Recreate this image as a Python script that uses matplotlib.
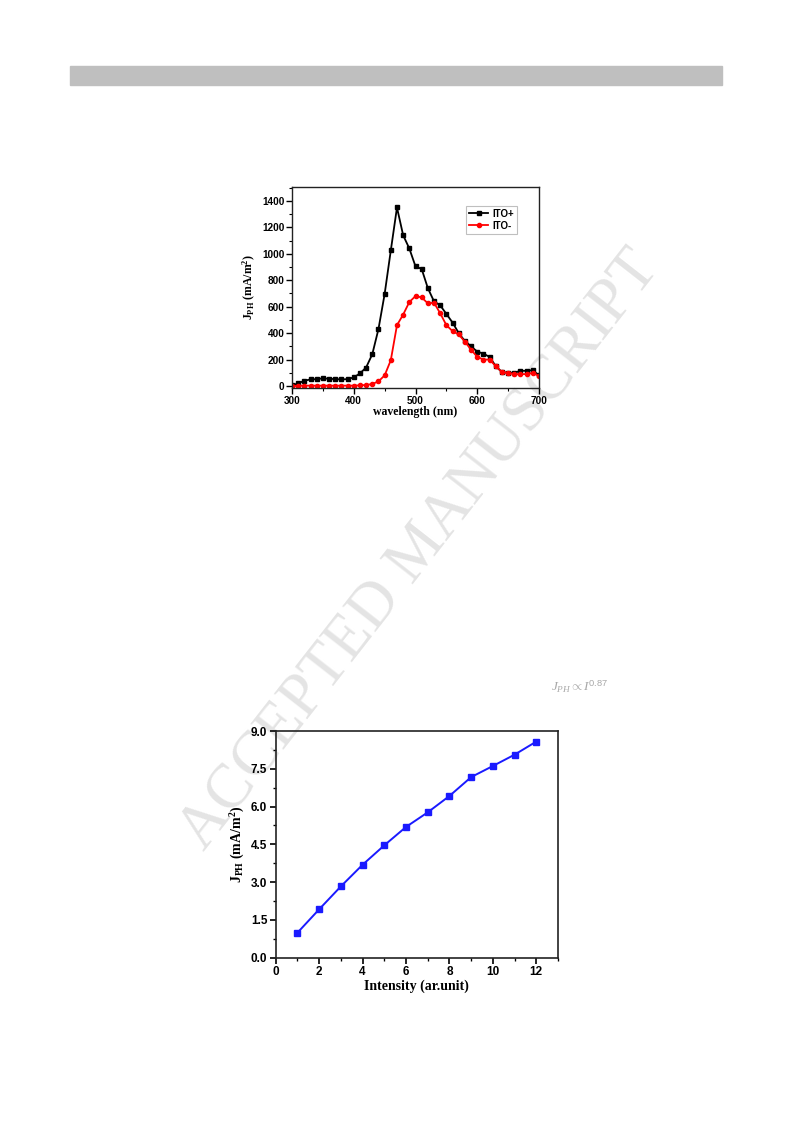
import numpy as np
import matplotlib
matplotlib.use("Agg")
import matplotlib.pyplot as plt
from matplotlib.ticker import MultipleLocator, AutoMinorLocator, FormatStrFormatter

plt.rcParams["mathtext.fontset"] = "custom"
plt.rcParams["mathtext.rm"] = "Liberation Serif"
plt.rcParams["mathtext.bf"] = "Liberation Serif:bold"
plt.rcParams["mathtext.it"] = "Liberation Serif:italic"
plt.rcParams["mathtext.sf"] = "Liberation Sans"

# --- spectral photocurrent (top chart) ---
wavelength = list(range(300, 701, 10))
ito_plus = [5, 20, 40, 50, 52, 58, 55, 52, 50, 52,
            65, 95, 140, 240, 430, 695, 1025, 1350, 1140, 1040,
            905, 885, 740, 640, 610, 545, 480, 400, 340, 300,
            260, 245, 220, 150, 105, 100, 100, 115, 115, 120, 80]
ito_minus = [0, 2, 3, 3, 3, 3, 3, 3, 3, 3,
             3, 5, 8, 15, 35, 80, 195, 460, 540, 635,
             680, 670, 625, 630, 550, 460, 415, 390, 335, 275,
             220, 200, 200, 150, 105, 100, 90, 90, 90, 100, 75]

# --- intensity dependence (bottom chart) ---
intensity = list(range(1, 13))
jph_int = [0.99, 1.92, 2.83, 3.69, 4.46, 5.19, 5.77, 6.42, 7.17, 7.61, 8.06, 8.58]

TICKFONT = "Liberation Sans"
LABELFONT = "Liberation Serif"
YLAB = r"J$_{\mathbf{PH}}$ (mA/m$^{\mathbf{2}}$)"

fig = plt.figure(figsize=(7.93, 11.23), dpi=100)
fig.patch.set_facecolor("white")

# grey header bar
fig.add_artist(plt.Rectangle((70/793, 1-85/1123), 652/793, 19/1123,
                             transform=fig.transFigure, color="#bfbfbf", zorder=-2))

# watermark (behind the charts)
fig.text(420/793, 1-550/1123, "ACCEPTED MANUSCRIPT", fontsize=45, family="Liberation Serif",
         color="#e4e4e4", rotation=52, ha="center", va="center", zorder=-1)


def style(ax, fs, lw, pad):
    ax.set_facecolor("none")
    for s in ax.spines.values():
        s.set_linewidth(lw); s.set_color("#222222")
    ax.tick_params(which="major", direction="out", length=4, width=lw, top=False, right=False, pad=pad)
    ax.tick_params(which="minor", direction="out", length=2, width=lw*0.8, top=False, right=False)
    ax.xaxis.set_minor_locator(AutoMinorLocator(2))
    ax.yaxis.set_minor_locator(AutoMinorLocator(2))
    for t in ax.get_xticklabels() + ax.get_yticklabels():
        t.set_fontfamily(TICKFONT); t.set_fontweight("bold"); t.set_fontsize(fs)


# ---------- top chart ----------
ax1 = fig.add_axes([292/793, 1-388/1123, 247/793, 201/1123])
ax1.plot(wavelength, ito_plus, "-s", color="black", lw=1.3, ms=3, label="ITO+")
ax1.plot(wavelength, ito_minus, "-o", color="#ff0000", lw=1.3, ms=3, label="ITO-")
ax1.set_xlim(300, 700)
ax1.set_ylim(-15, 1505)
ax1.xaxis.set_major_locator(MultipleLocator(100))
ax1.yaxis.set_major_locator(MultipleLocator(200))
style(ax1, 7.2, 1.0, 1.5)
ax1.set_xlabel("wavelength (nm)", fontfamily=LABELFONT, fontweight="bold", fontsize=8.5, labelpad=0)
ax1.set_ylabel(YLAB, fontfamily=LABELFONT, fontweight="bold", fontsize=8.5, labelpad=3)
leg = ax1.legend(loc="upper right", bbox_to_anchor=(0.93, 0.93),
                 frameon=True, fancybox=False, edgecolor="#b0b0b0", handlelength=2.0,
                 borderpad=0.3, labelspacing=0.2, handletextpad=0.4,
                 prop={"family": TICKFONT, "weight": "bold", "size": 7})
leg.get_frame().set_linewidth(0.8)

# ---------- bottom chart ----------
ax2 = fig.add_axes([275.7/793, 1-957.7/1123, 282.3/793, 226.7/1123])
ax2.plot(intensity, jph_int, "-s", color="#1a1aff", lw=1.4, ms=4)
ax2.set_xlim(0, 13)
ax2.set_ylim(0, 9)
ax2.xaxis.set_major_locator(MultipleLocator(2))
ax2.yaxis.set_major_locator(MultipleLocator(1.5))
ax2.yaxis.set_major_formatter(FormatStrFormatter("%.1f"))
style(ax2, 8.5, 1.2, 2)
ax2.set_xlabel("Intensity (ar.unit)", fontfamily=LABELFONT, fontweight="bold", fontsize=10, labelpad=1)
ax2.set_ylabel(YLAB, fontfamily=LABELFONT, fontweight="bold", fontsize=10, labelpad=3)

# faint power-law note
fig.text(551/793, 1-687/1123, r"$J_{PH}\propto I^{\mathsf{0.87}}$", fontsize=9.5, color="#a8a8a8",
         ha="left", va="center")

fig.savefig("out.png", dpi=100, facecolor="white")
